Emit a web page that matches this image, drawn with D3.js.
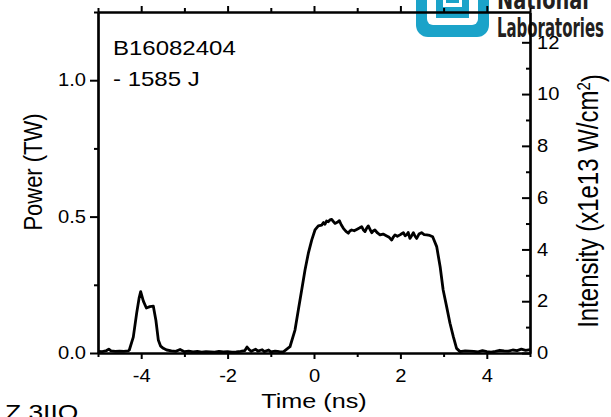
<!DOCTYPE html>
<html>
<head>
<meta charset="utf-8">
<script src="https://cdn.jsdelivr.net/npm/d3@7"></script>
<style>
  html, body { margin: 0; padding: 0; background: #fff; }
  svg { display: block; font-family: "Liberation Sans", Arial, sans-serif; }
</style>
</head>
<body>
<div id="chart"></div>
<script>
// laser pulse shape: power vs time, with a second (intensity) scale on the right
const time = [
  -5.0, -4.9, -4.8, -4.75, -4.7, -4.6, -4.5, -4.4, -4.3,
  -4.275, -4.183, -4.104, -4.05, -4.012, -3.95, -3.88, -3.8, -3.72, -3.66, -3.604, -3.55, -3.488, -3.41,
  -3.3, -3.2, -3.1, -3.0, -2.9, -2.8, -2.7, -2.6, -2.5, -2.4, -2.3, -2.2, -2.1, -2.0, -1.9, -1.8, -1.7,
  -1.6, -1.55, -1.5, -1.45, -1.35, -1.3, -1.2, -1.15, -1.05, -1.0, -0.9, -0.8, -0.71,
  -0.556, -0.44, -0.363, -0.285, -0.208, -0.132, -0.053, 0.023, 0.1, 0.178, 0.22, 0.255, 0.29, 0.33, 0.37,
  0.41, 0.45, 0.486, 0.54, 0.587, 0.63, 0.68, 0.74, 0.795, 0.83, 0.872, 0.93, 0.988, 1.05, 1.104, 1.14,
  1.18, 1.22, 1.257, 1.3, 1.335, 1.37, 1.41, 1.47, 1.528, 1.6, 1.683, 1.74, 1.798, 1.84, 1.875, 1.93,
  1.99, 2.03, 2.07, 2.11, 2.145, 2.18, 2.22, 2.26, 2.3, 2.34, 2.377, 2.43, 2.49, 2.55, 2.61, 2.68, 2.747,
  2.84, 2.92, 2.99, 3.07, 3.148, 3.225, 3.3, 3.38,
  3.5, 3.6, 3.7, 3.8, 3.9, 4.0, 4.1, 4.2, 4.3, 4.4, 4.5, 4.6, 4.7, 4.8, 4.9, 5.0
];
const power = [
  0.006, 0.005, 0.009, 0.014, 0.008, 0.006, 0.007, 0.006, 0.008,
  0.011, 0.058, 0.147, 0.2, 0.225, 0.19, 0.165, 0.17, 0.172, 0.12, 0.048, 0.025, 0.017, 0.011,
  0.008, 0.006, 0.013, 0.005, 0.007, 0.004, 0.006, 0.003, 0.005, 0.004, 0.003, 0.006, 0.004, 0.005, 0.003, 0.004, 0.006,
  0.009, 0.022, 0.012, 0.006, 0.014, 0.007, 0.012, 0.005, 0.011, 0.004, 0.007, 0.005, 0.004,
  0.023, 0.084, 0.158, 0.231, 0.304, 0.365, 0.414, 0.451, 0.466, 0.469, 0.478, 0.472, 0.484, 0.481, 0.488,
  0.49, 0.482, 0.475, 0.479, 0.485, 0.47, 0.457, 0.446, 0.439, 0.447, 0.451, 0.448, 0.453, 0.458, 0.463, 0.452,
  0.445, 0.458, 0.466, 0.452, 0.441, 0.447, 0.451, 0.44, 0.433, 0.436, 0.429, 0.424, 0.414, 0.426, 0.433, 0.428,
  0.433, 0.437, 0.441, 0.43, 0.433, 0.442, 0.42, 0.43, 0.441, 0.428, 0.42, 0.436, 0.441, 0.434, 0.433, 0.431, 0.426,
  0.39, 0.316, 0.231, 0.17, 0.109, 0.06, 0.017, 0.005,
  0.008, 0.007, 0.006, 0.004, 0.009, 0.005, 0.003, 0.006, 0.01, 0.008, 0.007, 0.011, 0.009, 0.014, 0.01, 0.012
];
const xMajor = [-4, -2, 0, 2, 4];
const xMinor = [-5, -3, -1, 1, 3, 5];
const yMajor = [0, 0.5, 1.0];
const yMinor = [0.25, 0.75, 1.25];
const y2Major = [0, 2, 4, 6, 8, 10, 12];
const y2Minor = [1, 3, 5, 7, 9, 11];
const notes = ["B16082404", "- 1585 J"];

const W = 611, H = 417;
const SX = 1.2; // the original export is stretched sideways
const m = { left: 98, right: W - 530, top: 12, bottom: H - 353 };

const svg = d3.select("#chart").append("svg").attr("width", W).attr("height", H);

const x = d3.scaleLinear().domain([-5, 5]).range([m.left, W - m.right]);
const y = d3.scaleLinear().domain([0, 1.25]).range([H - m.bottom, m.top]);
const y2 = d3.scaleLinear().domain([0, 13.17]).range([H - m.bottom, m.top]);

// --- logo (clipped at the top edge) ---
const logo = svg.append("g");
const cyan = "#1ba3c9";
logo.append("rect").attr("x", 416).attr("y", -40).attr("width", 73).attr("height", 77).attr("rx", 12).attr("fill", cyan);
logo.append("rect").attr("x", 427).attr("y", -30).attr("width", 51).attr("height", 55).attr("rx", 6).attr("fill", "#fff");
logo.append("rect").attr("x", 436).attr("y", -10).attr("width", 33).attr("height", 28).attr("fill", cyan);
logo.append("rect").attr("x", 443).attr("y", -10).attr("width", 3).attr("height", 17).attr("fill", "#fff");
logo.append("rect").attr("x", 459).attr("y", -10).attr("width", 3).attr("height", 17).attr("fill", "#fff");
logo.append("rect").attr("x", 446).attr("y", 3).attr("width", 13).attr("height", 4).attr("fill", "#fff");
logo.append("text").attr("x", 497).attr("y", 9)
  .attr("textLength", 92).attr("lengthAdjust", "spacingAndGlyphs")
  .style("font-family", "'Liberation Sans Narrow', 'DejaVu Sans Condensed', sans-serif")
  .style("font-weight", "bold").style("font-size", "27px").attr("fill", "#231f20").text("National");
logo.append("text").attr("x", 497).attr("y", 37)
  .attr("textLength", 107).attr("lengthAdjust", "spacingAndGlyphs")
  .style("font-family", "'Liberation Sans Narrow', 'DejaVu Sans Condensed', sans-serif")
  .style("font-weight", "bold").style("font-size", "27px").attr("fill", "#231f20").text("Laboratories");

// --- data line ---
const pts = time.map((t, i) => [t, power[i]]);
svg.append("path").datum(pts)
  .attr("fill", "none").attr("stroke", "#000").attr("stroke-width", 2.8)
  .attr("stroke-linejoin", "round")
  .attr("d", d3.line().x((d) => x(d[0])).y((d) => y(d[1])));

// --- axes ---
function styleAxis(g, labels) {
  g.select(".domain").attr("stroke-width", 2.2).attr("stroke", "#000");
  g.selectAll(".tick line").attr("stroke-width", 2).attr("stroke", "#000");
  if (!labels) g.selectAll("text").remove();
  g.selectAll("text").style("font-size", "18px").attr("fill", "#000")
    .each(function () {
      const t = d3.select(this);
      const tx = +t.attr("x") || 0, ty = +t.attr("y") || 0;
      t.attr("x", 0).attr("y", 0).attr("transform", `translate(${tx},${ty}) scale(1.12,1)`);
    });
}
const plain = (d) => String(d); // hyphen minus like the original, not the unicode one
const gx = (ax, yPos, labels) => svg.append("g").attr("transform", `translate(0,${yPos})`).call(ax)
  .call((g) => styleAxis(g, labels));
gx(d3.axisBottom(x).tickValues(xMinor).tickSize(4).tickSizeOuter(0), H - m.bottom, false);
gx(d3.axisBottom(x).tickValues(xMajor).tickSize(6).tickSizeOuter(0).tickPadding(10).tickFormat(plain), H - m.bottom, true);
gx(d3.axisTop(x).tickValues(xMinor).tickSize(4).tickSizeOuter(0), m.top, false);
gx(d3.axisTop(x).tickValues(xMajor).tickSize(6).tickSizeOuter(0), m.top, false);

const gy = (ax, xPos, labels) => svg.append("g").attr("transform", `translate(${xPos},0)`).call(ax)
  .call((g) => styleAxis(g, labels));
gy(d3.axisLeft(y).tickValues(yMinor).tickSize(4).tickSizeOuter(0), m.left, false);
gy(d3.axisLeft(y).tickValues(yMajor).tickSize(8).tickSizeOuter(0).tickPadding(4).tickFormat(d3.format(".1f")), m.left, true);
gy(d3.axisRight(y2).tickValues(y2Minor).tickSize(-4).tickSizeOuter(0), W - m.right, false);
gy(d3.axisRight(y2).tickValues(y2Major).tickSize(-8).tickSizeOuter(0).tickPadding(7).tickFormat(plain), W - m.right, true);

// --- titles ---
function label(xp, yp, txt, size, rot) {
  return svg.append("text")
    .attr("transform", `translate(${xp},${yp}) scale(${SX},1)` + (rot ? ` rotate(${rot})` : ""))
    .attr("text-anchor", "middle").style("font-size", size + "px").attr("fill", "#000").text(txt);
}
label(314, 408, "Time (ns)", 21);
label(42, 172, "Power (TW)", 22, -90);
const it = label(598, 201, "", 24, -90);
it.append("tspan").text("Intensity (x1e13 W/cm");
it.append("tspan").attr("dy", "-0.45em").style("font-size", "15px").text("2");
it.append("tspan").attr("dy", "0.45em").text(")");

notes.forEach((n, i) => {
  svg.append("text").attr("transform", `translate(113,${55 + i * 31}) scale(${SX},1)`)
    .style("font-size", "20px").attr("fill", "#000").text(n);
});

// stray clipped text at the lower-left edge
svg.append("text").attr("transform", `translate(5,420) scale(${SX},1)`)
  .style("font-size", "22px").attr("fill", "#000").text("Z.3IIO");
</script>
</body>
</html>
